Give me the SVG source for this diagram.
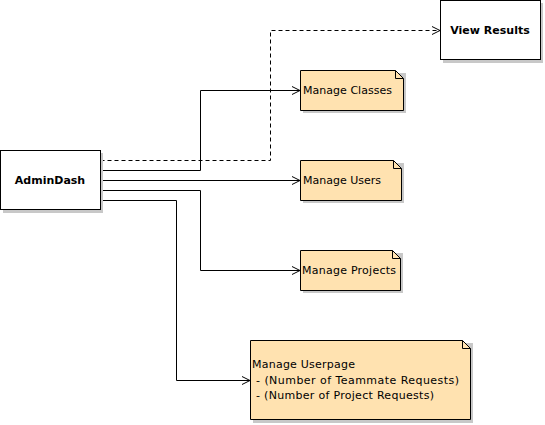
<svg xmlns="http://www.w3.org/2000/svg" width="545" height="425" viewBox="0 0 545 425">
<style>
.box{fill:#fff;stroke:#000;stroke-width:1}
.note{fill:#ffe2b0;stroke:#000;stroke-width:1}
.sh{fill:#c8c8c8}
.t{font-family:"DejaVu Sans",sans-serif;font-size:11px;fill:#000}
.b{font-family:"DejaVu Sans",sans-serif;font-size:11px;font-weight:bold;fill:#000}
.c{fill:none;stroke:#000;stroke-width:1}
.d{stroke-dasharray:4,3}
</style>
<defs>
<marker id="arr" markerWidth="10" markerHeight="10" refX="9" refY="5" orient="auto" markerUnits="userSpaceOnUse">
<path d="M1,1 L9,5 L1,9" fill="none" stroke="#000" stroke-width="1"/>
</marker>
</defs>
<rect width="545" height="425" fill="#fff"/>
<g id="connectors">
<path class="c d" d="M100.5,160.5 H270.5 V30.5 H440" marker-end="url(#arr)"/>
<path class="c" d="M100.5,170.5 H200.5 V90.5 H300" marker-end="url(#arr)"/>
<path class="c" d="M100.5,180.5 H300" marker-end="url(#arr)"/>
<path class="c" d="M100.5,190.5 H200.5 V270.5 H300" marker-end="url(#arr)"/>
<path class="c" d="M100.5,200.5 H176.5 V380.5 H250" marker-end="url(#arr)"/>
</g>
<g id="AdminDash">
<rect class="sh" x="3" y="153" width="100" height="60"/>
<rect class="box" x="0.5" y="150.5" width="100" height="59"/>
<text class="b" x="50" y="184" text-anchor="middle">AdminDash</text>
</g>
<g id="ViewResults">
<rect class="sh" x="443" y="3" width="100" height="60"/>
<rect class="box" x="440.5" y="0.5" width="100" height="59"/>
<text class="b" x="490" y="34" text-anchor="middle">View Results</text>
</g>
<g id="ManageClasses">
<path class="sh" d="M303,73 H406 V113 H303 Z"/>
<path class="note" d="M300.5,70.5 H395.5 L403.5,78.5 V110.5 H300.5 Z"/>
<path class="c" d="M395.5,70.5 V78.5 H403.5"/>
<text class="t" x="303" y="94" textLength="89">Manage Classes</text>
</g>
<g id="ManageUsers">
<path class="sh" d="M303,163 H404 V203 H303 Z"/>
<path class="note" d="M300.5,160.5 H393.5 L401.5,168.5 V200.5 H300.5 Z"/>
<path class="c" d="M393.5,160.5 V168.5 H401.5"/>
<text class="t" x="303" y="184" textLength="78">Manage Users</text>
</g>
<g id="ManageProjects">
<path class="sh" d="M303,253 H403 V293 H303 Z"/>
<path class="note" d="M300.5,250.5 H392.5 L400.5,258.5 V290.5 H300.5 Z"/>
<path class="c" d="M392.5,250.5 V258.5 H400.5"/>
<text class="t" x="302" y="274" textLength="94">Manage Projects</text>
</g>
<g id="ManageUserpage">
<path class="sh" d="M253,343 H473 V423 H253 Z"/>
<path class="note" d="M250.5,340.5 H462.5 L470.5,348.5 V419.5 H250.5 Z"/>
<path class="c" d="M462.5,340.5 V348.5 H470.5"/>
<text class="t" x="252" y="368" textLength="103">Manage Userpage</text>
<text class="t" x="256" y="384" textLength="203">- (Number of Teammate Requests)</text>
<text class="t" x="256" y="399" textLength="178">- (Number of Project Requests)</text>
</g>
</svg>
